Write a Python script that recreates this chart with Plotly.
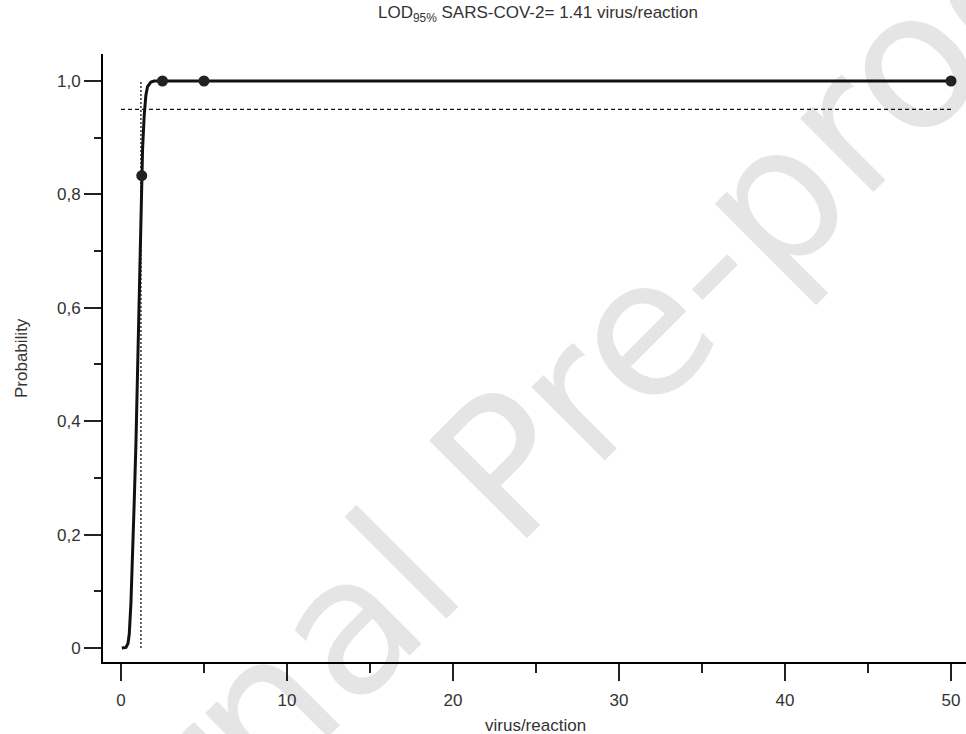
import plotly.graph_objects as go

# ---- data ----
obs_x = [1.25, 2.5, 5.0, 50.0]
obs_y = [0.833, 1.0, 1.0, 1.0]

fit_x = [0.05, 0.3, 0.42, 0.5, 0.6, 0.7, 0.8, 0.9, 1.0, 1.1, 1.2, 1.25, 1.3, 1.4, 1.5, 1.6, 1.8, 2.0, 50.0]
fit_y = [0.0, 0.001, 0.008, 0.025, 0.08, 0.16, 0.26, 0.36, 0.48, 0.61, 0.76, 0.833, 0.88, 0.94, 0.975, 0.99, 0.998, 1.0, 1.0]

p95_x = [0.0, 50.0]
p95_y = [0.95, 0.95]

lod_x = [1.2, 1.2]
lod_y = [0.0, 1.0]

x_ticks = [0, 10, 20, 30, 40, 50]
x_ticktext = ["0", "10", "20", "30", "40", "50"]
y_ticks = [0, 0.2, 0.4, 0.6, 0.8, 1.0]
y_ticktext = ["0", "0,2", "0,4", "0,6", "0,8", "1,0"]

title_text = "LOD<sub>95%</sub> SARS-COV-2= 1.41 virus/reaction"
x_title = "virus/reaction"
y_title = "Probability"
watermark = "Journal Pre-proof"

# ---- layout geometry ----
W, H = 966, 734
L, R, T, B = 103, 0, 54, 72
pw, ph = W - L - R, H - T - B

def px_to_paper(px, py):
    return (px - L) / pw, (H - B - py) / ph

FONT = "Liberation Sans, Arial, sans-serif"
TXT = "#333333"
FS = 17

fig = go.Figure()

fig.add_trace(go.Scatter(x=lod_x, y=lod_y, mode="lines",
                         line=dict(color="#555555", width=1.8, dash="2px,2px"),
                         hoverinfo="skip", showlegend=False))
fig.add_trace(go.Scatter(x=p95_x, y=p95_y, mode="lines",
                         line=dict(color="#111111", width=1.3, dash="4px,3px"),
                         hoverinfo="skip", showlegend=False))
fig.add_trace(go.Scatter(x=fit_x, y=fit_y, mode="lines",
                         line=dict(color="#111111", width=3),
                         showlegend=False))
fig.add_trace(go.Scatter(x=obs_x, y=obs_y, mode="markers",
                         marker=dict(color="#222222", size=11),
                         showlegend=False))

wx, wy = px_to_paper(517, 455)
fig.add_annotation(text=watermark, xref="paper", yref="paper", x=wx, y=wy,
                   xanchor="center", yanchor="middle",
                   showarrow=False, textangle=-45,
                   font=dict(family="DejaVu Sans, sans-serif", size=190, color="rgba(0,0,0,0.1)"))

tx, ty = px_to_paper(538, 14)
fig.add_annotation(text=title_text, xref="paper", yref="paper", x=tx, y=ty,
                   showarrow=False, xanchor="center", yanchor="middle",
                   font=dict(family=FONT, size=FS, color=TXT))

xtx, xty = px_to_paper(535, 726)
fig.add_annotation(text=x_title, xref="paper", yref="paper", x=xtx, y=xty,
                   showarrow=False, xanchor="center", yanchor="middle",
                   font=dict(family=FONT, size=FS, color=TXT))

ytx, yty = px_to_paper(21, 358)
fig.add_annotation(text=y_title, xref="paper", yref="paper", x=ytx, y=yty,
                   showarrow=False, xanchor="center", yanchor="middle", textangle=-90,
                   font=dict(family=FONT, size=FS, color=TXT))

fig.update_layout(
    width=W, height=H,
    margin=dict(l=L, r=R, t=T, b=B, pad=0, autoexpand=False),
    paper_bgcolor="white", plot_bgcolor="white",
    font=dict(family=FONT, size=FS, color=TXT),
    showlegend=False,
)

fig.update_xaxes(
    range=[-1.084, -1.084 + pw / 16.6], automargin=False,
    showgrid=False, zeroline=False,
    showline=True, linecolor="black", linewidth=2,
    ticks="outside", ticklen=17, tickwidth=2, tickcolor="#222222",
    tickvals=x_ticks, ticktext=x_ticktext, ticklabelstandoff=5,
    minor=dict(ticks="outside", ticklen=9, tickwidth=1.5, tickcolor="#222222", dtick=5, tick0=0),
    tickfont=dict(size=FS, color=TXT),
)
fig.update_yaxes(
    range=[-0.0247, 1.0476], automargin=False,
    showgrid=False, zeroline=False,
    showline=True, linecolor="black", linewidth=2,
    ticks="outside", ticklen=17, tickwidth=2, tickcolor="#222222",
    tickvals=y_ticks, ticktext=y_ticktext,
    minor=dict(ticks="outside", ticklen=7, tickwidth=1.5, tickcolor="#222222", dtick=0.1, tick0=0),
    tickfont=dict(size=FS, color=TXT),
)

fig.write_html("out.html")
